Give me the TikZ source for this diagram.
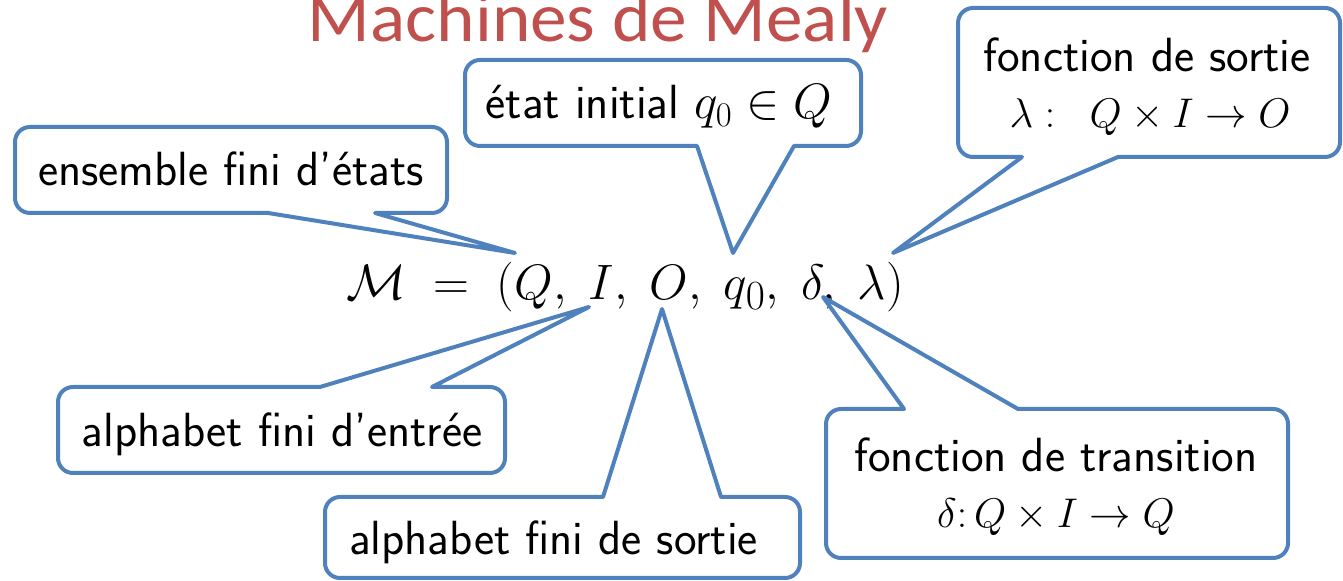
\documentclass[tikz,border=0pt]{standalone}
\usepackage{fontspec}
\usepackage{graphicx}
\newfontfamily\titlefont{Carlito}
\usetikzlibrary{calc}
\definecolor{callblue}{HTML}{4F81BD}
\definecolor{titlered}{HTML}{C0504D}
\newcommand\bubr{7.5pt}
% rounded box with a pointer leaving its bottom edge
\newcommand\bubbledown[4]{%
  \draw[callline] (#4) -- (#3)
    -- ($(#1.south east)+(-\bubr,0)$) arc[start angle=270,end angle=360,radius=\bubr]
    -- ($(#1.north east)+(0,-\bubr)$) arc[start angle=0,end angle=90,radius=\bubr]
    -- ($(#1.north west)+(\bubr,0)$) arc[start angle=90,end angle=180,radius=\bubr]
    -- ($(#1.south west)+(0,\bubr)$) arc[start angle=180,end angle=270,radius=\bubr]
    -- (#2) -- cycle;}
% rounded box with a pointer leaving its top edge
\newcommand\bubbleup[4]{%
  \draw[callline] (#4) -- (#2)
    -- ($(#1.north west)+(\bubr,0)$) arc[start angle=90,end angle=180,radius=\bubr]
    -- ($(#1.south west)+(0,\bubr)$) arc[start angle=180,end angle=270,radius=\bubr]
    -- ($(#1.south east)+(-\bubr,0)$) arc[start angle=270,end angle=360,radius=\bubr]
    -- ($(#1.north east)+(0,-\bubr)$) arc[start angle=0,end angle=90,radius=\bubr]
    -- (#3) -- cycle;}
\tikzset{
  boxshape/.style={rectangle, inner sep=0pt, outer sep=0pt},
  callline/.style={draw=callblue, line width=2pt, line join=round},
  calltext/.style={anchor=base, inner sep=0pt, font=\sffamily\fontsize{24}{29}\selectfont},
  callmath/.style={anchor=base, inner sep=0pt, font=\fontsize{21}{25}\selectfont},
}
\begin{document}
\begin{tikzpicture}[x=0.5pt,y=0.5pt]
\useasboundingbox (0,0) rectangle (1343,581);
\clip (0,0) rectangle (1343,581);

% title, running off the top edge
\node[anchor=base, inner sep=0pt, text=titlered, font=\titlefont\fontsize{35}{40}\selectfont]
  (title) at (598,539) {\scalebox{1.047}[1]{Machines de Mealy}};

% the tuple
\node[anchor=base, inner sep=0pt, font=\fontsize{30.5}{36}\selectfont]
  (tuple) at (625,281) {$\mathcal{M} \;=\; (Q,\;I,\;O,\;q_0,\;\delta,\;\lambda)$};

% box frames
\node[boxshape, minimum width=216pt, minimum height=43pt] (b1) at (231,411) {};
\node[boxshape, minimum width=198pt, minimum height=43pt] (b2) at (663,478) {};
\node[boxshape, minimum width=191pt, minimum height=74.5pt] (b3) at (1149,498.5) {};
\node[boxshape, minimum width=223.5pt, minimum height=43pt] (b4) at (281.5,151) {};
\node[boxshape, minimum width=237.5pt, minimum height=40.5pt] (b5) at (562.5,43.5) {};
\node[boxshape, minimum width=231pt, minimum height=74.5pt] (b6) at (1057,97.5) {};

% pointer bases and tips
\coordinate (b1l) at (268,368);  \coordinate (b1r) at (375,368);  \coordinate (p1) at (515,328);
\coordinate (b2l) at (697,435);  \coordinate (b2r) at (794,435);  \coordinate (p2) at (733,328);
\coordinate (b3l) at (1022,424); \coordinate (b3r) at (1118,424); \coordinate (p3) at (893,328);
\coordinate (b4l) at (320,194);  \coordinate (b4r) at (432,194);  \coordinate (p4) at (589,274);
\coordinate (b5l) at (603,84);   \coordinate (b5r) at (721,84);   \coordinate (p5) at (662,272);
\coordinate (b6l) at (904,172);  \coordinate (b6r) at (1018,172); \coordinate (p6) at (823,284);

\bubbledown{b1}{b1l}{b1r}{p1}
\bubbledown{b2}{b2l}{b2r}{p2}
\bubbledown{b3}{b3l}{b3r}{p3}
\bubbleup{b4}{b4l}{b4r}{p4}
\bubbleup{b5}{b5l}{b5r}{p5}
\bubbleup{b6}{b6l}{b6r}{p6}

% labels
\node[calltext] (t1) at (231,395) {ensemble fini d'états};
\node[calltext] (t2) at (659,462) {état initial $q_0 \in Q$};
\node[calltext] (t3a) at (1147,509) {fonction de sortie};
\node[callmath] (t3b) at (1150,453) {$\lambda \mathrel{:}\;\; Q \times I \rightarrow O$};
\node[calltext] (t4) at (282,134) {alphabet fini d'entrée};
\node[calltext] (t5) at (553.5,26) {alphabet fini de sortie};
\node[calltext] (t6a) at (1056,109) {fonction de transition};
\node[callmath] (t6b) at (1056,53) {$\delta{:}\,Q \times I \rightarrow Q$};
\end{tikzpicture}
\end{document}
